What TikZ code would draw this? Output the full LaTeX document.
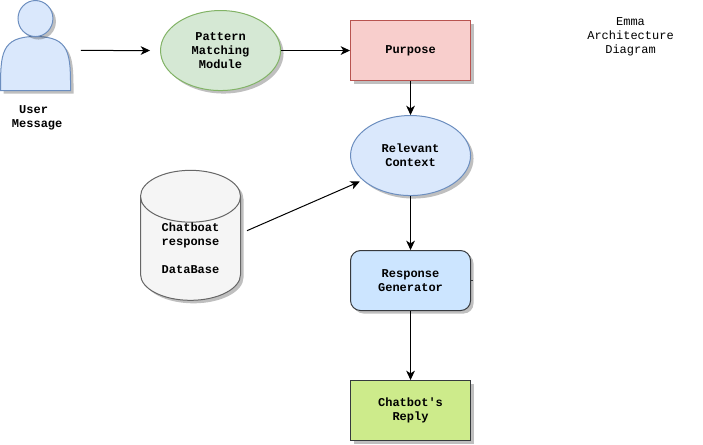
\documentclass[tikz,border=0pt]{standalone}
\usepackage{fontspec}
\setmonofont{Liberation Mono}
\usetikzlibrary{shapes,shadows,arrows.meta,positioning}
\definecolor{bluefill}{HTML}{DAE8FC}
\definecolor{blueline}{HTML}{6C8EBF}
\definecolor{greenfill}{HTML}{D5E8D4}
\definecolor{greenline}{HTML}{82B366}
\definecolor{redfill}{HTML}{F8CECC}
\definecolor{redline}{HTML}{B85450}
\definecolor{genfill}{HTML}{CCE5FF}
\definecolor{replyfill}{HTML}{CDEB8B}
\definecolor{darkline}{HTML}{36393D}
\begin{document}
\begin{tikzpicture}[line width=0.75pt,
	softshadow/.style={drop shadow={shadow xshift=2.25pt, shadow yshift=-2.25pt, fill=black, opacity=0.25}},
	label text/.style={font=\ttfamily\bfseries\fontsize{9}{10.5}\selectfont, align=center},
	flow/.style={-{Stealth[length=7pt, width=6.5pt, inset=2pt]}, black},
	oval/.style={ellipse, draw, softshadow, label text, minimum width=90pt, minimum height=60pt, inner sep=0pt},
	block/.style={rectangle, draw, softshadow, label text, minimum width=90pt, minimum height=45pt}]
	\useasboundingbox (0,0) rectangle (527.25pt,-333pt);
	\node [oval, draw=greenline, fill=greenfill] (pattern) at (165.4pt,-37.9pt) {Pattern\\Matching\\Module};
	\node [block, draw=redline, fill=redfill] (purpose) [right of=pattern, node distance=142.5pt] {Purpose};
	\node [oval, draw=blueline, fill=bluefill] (context) [below of=purpose, node distance=78.75pt] {Relevant\\Context};
	\node [block, draw=darkline, fill=genfill, rounded corners=7.5pt] (generator) [below of=context, node distance=93.75pt] {Response\\Generator};
	\node [block, draw=darkline, fill=replyfill] (reply) [below of=generator, node distance=97.5pt] {Chatbot's\\Reply};
	\node [cylinder, shape border rotate=90, aspect=0.9, draw=black!60, fill=black!4, softshadow, label text, minimum width=75pt, minimum height=97.5pt, inner sep=0pt] (database) at (142.9pt,-186.4pt) {Chatboat\\response\\\mbox{}\\DataBase};
	\node [label text, inner sep=0pt] (usertext) at (27.9pt,-88.1pt) {User\hphantom{x}\\Message};
	\node [font=\ttfamily\fontsize{9}{10.5}\selectfont, align=center, inner sep=0pt] (title) at (472.9pt,-27.9pt) {Emma\\Architecture\\Diagram};
	% the actor, its node is only a frame for the connector
	\node [minimum width=52.5pt, minimum height=67.5pt, inner sep=0pt] (user) at (26.6pt,-34.1pt) {};
	\draw [draw=blueline, fill=bluefill, softshadow] (0.4pt,-67.9pt) .. controls (0.4pt,-40.9pt) and (0.4pt,-27.4pt) .. (26.6pt,-27.4pt) .. controls (52.9pt,-27.4pt) and (52.9pt,-40.9pt) .. (52.9pt,-67.9pt) -- cycle;
	\draw [draw=blueline, fill=bluefill, softshadow] (26.6pt,-13.9pt) ellipse [x radius=13.1pt, y radius=13.5pt];
	\path ([shift={(7.5pt,-3.75pt)}]user.east) edge [flow, shorten >=7.5pt] (pattern.west);
	\path (pattern.east) edge [flow] (purpose.west);
	\path (purpose.south) edge [flow] (context.north);
	\path ([shift={(4.5pt,13.4pt)}]database.east) edge [flow] ([shift={(-6pt,2pt)}]context.south west);
	\path (context.south) edge [flow] (generator.north);
	\path (generator.south) edge [flow] (reply.north);
	\draw [darkline] (generator.east) -- ++(1.5pt,0);
\end{tikzpicture}
\end{document}
